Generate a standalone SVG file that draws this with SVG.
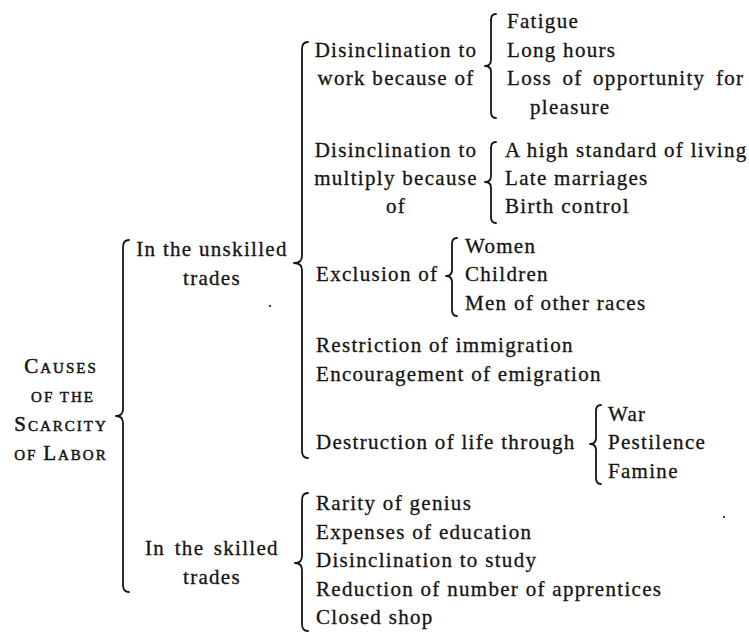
<svg xmlns="http://www.w3.org/2000/svg" width="749" height="632" viewBox="0 0 749 632">
<style>
  text { font-family: "Liberation Serif", "Times New Roman", serif; font-size: 21px; fill: #141414; stroke: #141414; stroke-width: 0.3px; letter-spacing: 1.3px; }
  .c { text-anchor: middle; }
  .sc { font-size: 15px; letter-spacing: 2px; stroke-width: 0.5px; }
  .big { font-size: 21px; }
  .brace { fill: none; stroke: #141414; stroke-width: 1.8; stroke-linecap: round; stroke-linejoin: round; }
</style>
<rect x="0" y="0" width="749" height="632" fill="#ffffff"/>

<g id="connectors">
  <!-- main brace -->
  <path class="brace" d="M129,240 Q123,240 123,247 L123,409 Q123,416 116,416 Q123,416 123,423 L123,585 Q123,592 129,592"/>
  <!-- unskilled brace -->
  <path class="brace" d="M308,42 Q302,42 302,49 L302,256 Q302,263 294,263 Q302,263 302,270 L302,451 Q302,458 308,458"/>
  <!-- skilled brace -->
  <path class="brace" d="M308,493 Q302,493 302,500 L302,556 Q302,563 295,563 Q302,563 302,570 L302,624 Q302,631 308,631"/>
  <!-- work brace -->
  <path class="brace" d="M496,14 Q491,14 491,20 L491,60 Q491,66 485,66 Q491,66 491,72 L491,112 Q491,118 496,118"/>
  <!-- multiply brace -->
  <path class="brace" d="M496,142 Q491,142 491,148 L491,176 Q491,182 485,182 Q491,182 491,188 L491,217 Q491,223 496,223"/>
  <!-- exclusion brace -->
  <path class="brace" d="M457,238 Q452,238 452,244 L452,270 Q452,276 446,276 Q452,276 452,282 L452,310 Q452,316 457,316"/>
  <!-- destruction brace -->
  <path class="brace" d="M601,405 Q596,405 596,411 L596,438 Q596,444 590,444 Q596,444 596,450 L596,478 Q596,484 601,484"/>
</g>

<g id="root">
  <text class="c sc" x="61" y="373"><tspan class="big">C</tspan>AUSES</text>
  <text class="c sc" x="63" y="402">OF THE</text>
  <text class="c sc" x="61" y="431"><tspan class="big">S</tspan>CARCITY</text>
  <text class="c sc" x="61" y="460">OF <tspan class="big">L</tspan>ABOR</text>
</g>

<g id="unskilled">
  <text class="c" x="212" y="256">In the unskilled</text>
  <text class="c" x="212" y="284.5">trades</text>
</g>

<g id="skilled">
  <text class="c" x="212" y="555" word-spacing="3">In the skilled</text>
  <text class="c" x="212" y="583.5">trades</text>
</g>

<g id="work">
  <text class="c" x="396" y="56.5">Disinclination to</text>
  <text class="c" x="396" y="85">work because of</text>
</g>
<g id="work-items">
  <text x="507" y="28">Fatigue</text>
  <text x="507" y="56.5">Long hours</text>
  <text x="507" y="85" word-spacing="4">Loss of opportunity for</text>
  <text x="530" y="113.5">pleasure</text>
</g>

<g id="multiply">
  <text class="c" x="396" y="156.5">Disinclination to</text>
  <text class="c" x="396" y="184.5">multiply because</text>
  <text class="c" x="396" y="212.5">of</text>
</g>
<g id="multiply-items">
  <text x="505" y="156.5">A high standard of living</text>
  <text x="505" y="184.5">Late marriages</text>
  <text x="505" y="212.5">Birth control</text>
</g>

<g id="exclusion">
  <text x="316" y="281">Exclusion of</text>
</g>
<g id="exclusion-items">
  <text x="465" y="252.5">Women</text>
  <text x="465" y="281">Children</text>
  <text x="465" y="309.5">Men of other races</text>
</g>

<g id="migration">
  <text x="316" y="352">Restriction of immigration</text>
  <text x="316" y="380.5">Encouragement of emigration</text>
</g>

<g id="destruction">
  <text x="316" y="449">Destruction of life through</text>
</g>
<g id="destruction-items">
  <text x="608" y="420.5">War</text>
  <text x="608" y="449">Pestilence</text>
  <text x="608" y="477.5">Famine</text>
</g>

<g id="skilled-items">
  <text x="316" y="510">Rarity of genius</text>
  <text x="316" y="538.5">Expenses of education</text>
  <text x="316" y="567">Disinclination to study</text>
  <text x="316" y="595.5">Reduction of number of apprentices</text>
  <text x="316" y="624">Closed shop</text>
</g>

<g id="specks">
  <circle cx="270" cy="306" r="1.1" fill="#141414"/>
  <circle cx="724" cy="517" r="1.1" fill="#141414"/>
</g>
</svg>
